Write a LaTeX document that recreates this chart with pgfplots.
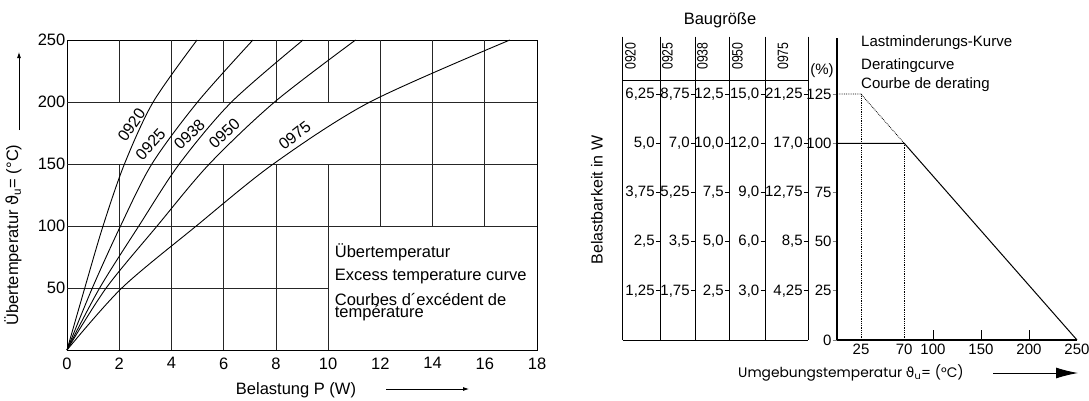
\documentclass[border=0pt]{standalone}
\usepackage{pgfplots}
\pgfplotsset{compat=1.18}
\usepackage{graphicx}
\usepackage{fontspec}
\setmainfont{Liberation Sans}
\newfontfamily\dejavu{DejaVu Sans}
\newfontfamily\poppins{Poppins}
\usetikzlibrary{arrows.meta}
\newcommand\fa{\fontsize{16.5}{19}\selectfont}
\newcommand\fc{\fontsize{16}{19}\selectfont}
\newcommand\fb{\fontsize{15}{17}\selectfont}
\begin{document}
\begin{tikzpicture}
% ---------------- left chart ----------------
\begin{axis}[at={(67pt,-350pt)}, anchor=south west, scale only axis,
  width=470pt, height=310pt,
  xmin=0, xmax=18, ymin=0, ymax=250,
  xtick={0,2,...,18}, ytick={50,100,...,250},
  major tick length=0pt,
  axis line style={line width=0.9pt},
  tick label style={font=\fa},
  /pgf/number format/assume math mode=true,
  xticklabel style={yshift=-4pt},
  yticklabel style={inner sep=1.5pt},
  clip=false]
\tikzset{gl/.style={line width=0.7pt, black!85}}
\draw[gl] (axis cs:0,200) -- (axis cs:18,200);
\draw[gl] (axis cs:0,150) -- (axis cs:18,150);
\draw[gl] (axis cs:0,100) -- (axis cs:18,100);
\draw[gl] (axis cs:0,50) -- (axis cs:10,50);
\pgfplotsinvokeforeach{2,6,8,10}{
  \draw[gl] (axis cs:#1,0) -- (axis cs:#1,150);
  \draw[gl] (axis cs:#1,200) -- (axis cs:#1,250);
}
\draw[gl] (axis cs:4,0) -- (axis cs:4,250);
\pgfplotsinvokeforeach{12,14,16}{
  \draw[gl] (axis cs:#1,100) -- (axis cs:#1,250);
}
\addplot[smooth, line width=0.9pt] coordinates {(0,0) (0.68,50) (1.38,100) (2.2,150) (3.3,200) (4.98,250)};
\addplot[smooth, line width=0.9pt] coordinates {(0,0) (0.97,50) (2.05,100) (3.25,150) (5.0,200) (7.12,250)};
\addplot[smooth, line width=0.9pt] coordinates {(0,0) (1.25,50) (2.75,100) (4.3,150) (6.3,200) (9.04,250)};
\addplot[smooth, line width=0.9pt] coordinates {(0,0) (1.5,50) (3.45,100) (5.45,150) (7.95,200) (11.05,250)};
\addplot[smooth, line width=0.9pt] coordinates {(0,0) (2.1,50) (4.95,100) (7.9,150) (11.6,200) (16.96,250)};
\node[font=\fc, rotate=55, inner sep=0pt] at (axis cs:2.47,181.5) {0920};
\node[font=\fc, rotate=48, inner sep=0pt] at (axis cs:3.2,166) {0925};
\node[font=\fc, rotate=44, inner sep=0pt] at (axis cs:4.69,174) {0938};
\node[font=\fc, rotate=43, inner sep=0pt] at (axis cs:6.03,174.5) {0950};
\node[font=\fc, rotate=38, inner sep=0pt] at (axis cs:8.72,173.2) {0975};
\node[font=\fa, anchor=west, inner sep=0pt] at (axis cs:10.25,78.5) {Übertemperatur};
\node[font=\fa, anchor=west, inner sep=0pt] at (axis cs:10.25,59) {Excess temperature curve};
\node[font=\fa, anchor=west, inner sep=0pt] at (axis cs:10.25,40.6) {Courbes d´excédent de};
\node[font=\fa, anchor=west, inner sep=0pt] at (axis cs:10.25,29.5) {température};
\end{axis}
\node[font=\fa, rotate=90] at (13pt,-235pt) {Übertemperatur {\dejavu ϑ}\textsubscript{u}= (°C)};
\draw[-{Latex[length=6pt,width=4pt]}, line width=0.8pt] (19pt,-130pt) -- (19pt,-52pt);
\node[font=\fa] at (296pt,-390pt) {Belastung P (W)};
\draw[-{Latex[length=6pt,width=4pt]}, line width=0.8pt] (386pt,-389pt) -- (469pt,-389pt);
% ---------------- right chart ----------------
\begin{axis}[at={(837pt,-340pt)}, anchor=south west, scale only axis,
  width=240pt, height=302pt,
  xmin=0, xmax=250, ymin=0, ymax=153.5,
  axis x line=bottom, axis y line=left,
  axis line style={-, line width=1.3pt},
  xtick={25,70,100,150,200,250}, ytick={0,25,...,125},
  xtick style={draw=none},
  ytick style={line width=0.8pt},
  ytick align=outside, major tick length=4.5pt,
  tick label style={font=\fb},
  /pgf/number format/assume math mode=true,
  yticklabel style={inner sep=0.8pt},
  xticklabel style={inner sep=2pt},
  clip=false]
\addplot[line width=1pt] coordinates {(0,100) (70,100) (250,0)};
\addplot[densely dotted, line width=0.8pt] coordinates {(0,125) (25,125) (70,100)};
\addplot[densely dotted, line width=0.8pt] coordinates {(25,0) (25,125)};
\addplot[densely dotted, line width=0.8pt] coordinates {(70,0) (70,100)};
\draw[line width=0.8pt] (axis cs:100,0) -- ++(0pt,10pt);
\draw[line width=0.8pt] (axis cs:150,0) -- ++(0pt,10pt);
\draw[line width=0.8pt] (axis cs:200,0) -- ++(0pt,10pt);
\node[font=\fb, anchor=west, inner sep=0pt] at (axis cs:25,150.9) {Lastminderungs-Kurve};
\node[font=\fb, anchor=west, inner sep=0pt] at (axis cs:25,139.7) {Deratingcurve};
\node[font=\fb, anchor=west, inner sep=0pt] at (axis cs:25,129.6) {Courbe de derating};
\node[font=\fb] at (axis cs:-15.6,136.7) {(\%)};
\end{axis}
% table
\foreach \sx in {622.7,660.3,695.3,729.3,765,808.3}{
  \draw[line width=0.8pt] (\sx pt,-36.7pt) -- (\sx pt,-340pt);
}
\draw[line width=0.8pt] (622.7pt,-80pt) -- (808.3pt,-80pt);
\draw[line width=0.8pt] (622.7pt,-340pt) -- (808.3pt,-340pt);
\node[font=\fb, rotate=90] at (630.5pt,-56pt) {\scalebox{0.82}[1]{0920}};
\node[font=\fb, rotate=90] at (667.5pt,-56pt) {\scalebox{0.82}[1]{0925}};
\node[font=\fb, rotate=90] at (702.5pt,-56pt) {\scalebox{0.82}[1]{0938}};
\node[font=\fb, rotate=90] at (737.5pt,-56pt) {\scalebox{0.82}[1]{0950}};
\node[font=\fb, rotate=90] at (783pt,-56pt) {\scalebox{0.82}[1]{0975}};
\foreach \py/\va/\vb/\vc/\vd/\ve in {94/{6,25}/{8,75}/{12,5}/{15,0}/{21,25},
   143.2/{5,0}/{7,0}/{10,0}/{12,0}/{17,0},
   192.4/{3,75}/{5,25}/{7,5}/{9,0}/{12,75},
   241.6/{2,5}/{3,5}/{5,0}/{6,0}/{8,5},
   290.8/{1,25}/{1,75}/{2,5}/{3,0}/{4,25}}{
  \node[font=\fb, anchor=east, inner sep=0pt] at (654.8pt,-\py pt) {\va};
  \node[font=\fb, anchor=east, inner sep=0pt] at (689.8pt,-\py pt) {\vb};
  \node[font=\fb, anchor=east, inner sep=0pt] at (723.8pt,-\py pt) {\vc};
  \node[font=\fb, anchor=east, inner sep=0pt] at (759.5pt,-\py pt) {\vd};
  \node[font=\fb, anchor=east, inner sep=0pt] at (802.8pt,-\py pt) {\ve};
  \foreach \sx in {660.3,695.3,729.3,765,808.3}{
    \draw[line width=0.8pt] (\sx pt-4.5pt,-\py pt) -- (\sx pt,-\py pt);
  }
}
\node[font=\fontsize{16.5}{18}\selectfont] at (720pt,-20pt) {Baugröße};
\node[font=\fontsize{16}{18}\selectfont, rotate=90] at (597pt,-200pt) {Belastbarkeit in W};
\node[font=\poppins\fontsize{13.8}{16}\selectfont, anchor=west, inner sep=0pt] at (738pt,-373pt) {Umgebungstemperatur {\dejavu ϑ}\textsubscript{u}= (°C)};
\draw[-{Latex[length=22pt,width=11pt]}, line width=0.9pt] (993pt,-373pt) -- (1078pt,-373pt);
\pgfresetboundingbox
\path[use as bounding box] (0pt,0pt) rectangle (1089pt,-400pt);
\end{tikzpicture}
\end{document}
